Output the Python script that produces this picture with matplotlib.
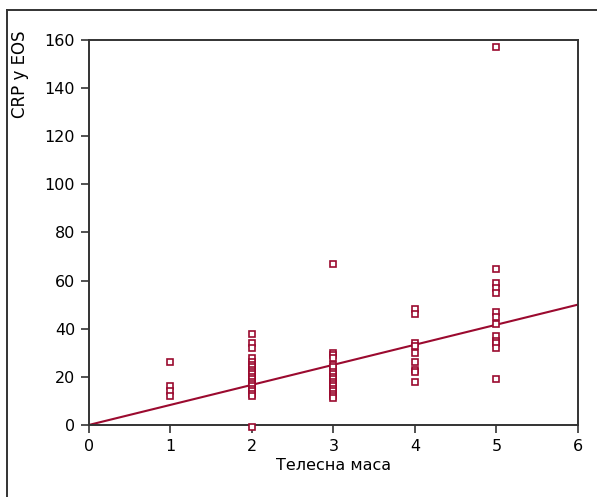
import matplotlib
matplotlib.use("Agg")
import matplotlib.pyplot as plt
from matplotlib.lines import Line2D

# body mass category vs CRP values
mass_1 = [26, 16, 14, 12]
mass_2 = [38, 34, 32, 28, 26, 25, 24, 23, 22, 21, 20, 19, 18, 17, 16, 15, 14, 13, 12, -1]
mass_3 = [67, 30, 29, 28, 25, 24, 22, 21, 20, 19, 18, 17, 16, 15, 14, 13, 12, 11]
mass_4 = [48, 46, 34, 33, 30, 26, 23, 22, 18]
mass_5 = [157, 65, 59, 57, 55, 47, 45, 42, 37, 35, 34, 32, 19]
groups = [1, 2, 3, 4, 5]

fit_x = [0, 6]
fit_y = [0, 50]

RED = "#9b0a2f"
AX = "#333333"

plt.rcParams["font.family"] = ["DejaVu Sans"]
fig = plt.figure(figsize=(5.97, 4.97), dpi=100)
ax = fig.add_axes([0.149, 0.145, 0.819, 0.7745])

for g, vals in zip(groups, [mass_1, mass_2, mass_3, mass_4, mass_5]):
    ax.plot([g] * len(vals), vals, linestyle="none", marker="s", markersize=4,
            markerfacecolor="white", markeredgecolor=RED, markeredgewidth=1.2,
            clip_on=False, zorder=3)

ax.plot(fit_x, fit_y, color=RED, linewidth=1.5, zorder=2)

ax.set_xlim(0, 6)
ax.set_ylim(0, 160)
ax.set_xticks(range(0, 7))
ax.set_yticks(range(0, 161, 20))
ax.tick_params(direction="out", length=6, width=1.2, color=AX, labelsize=11.5,
               labelcolor="black", pad=4)
for s in ax.spines.values():
    s.set_color(AX)
    s.set_linewidth(1.4)

ax.set_xlabel("Телесна маса", fontsize=11.5, labelpad=3)
ax.set_ylabel("CRP у EOS", fontsize=12, loc="top")
ax.yaxis.set_label_coords(-0.122, 1.025)

# outer frame around the figure (left and top edges visible)
fig.add_artist(Line2D([7 / 597, 7 / 597], [0, 1 - 10 / 497], transform=fig.transFigure,
                      color=AX, linewidth=1.4))
fig.add_artist(Line2D([7 / 597, 1], [1 - 10 / 497, 1 - 10 / 497], transform=fig.transFigure,
                      color=AX, linewidth=1.4))

fig.savefig("out.png", dpi=100)
